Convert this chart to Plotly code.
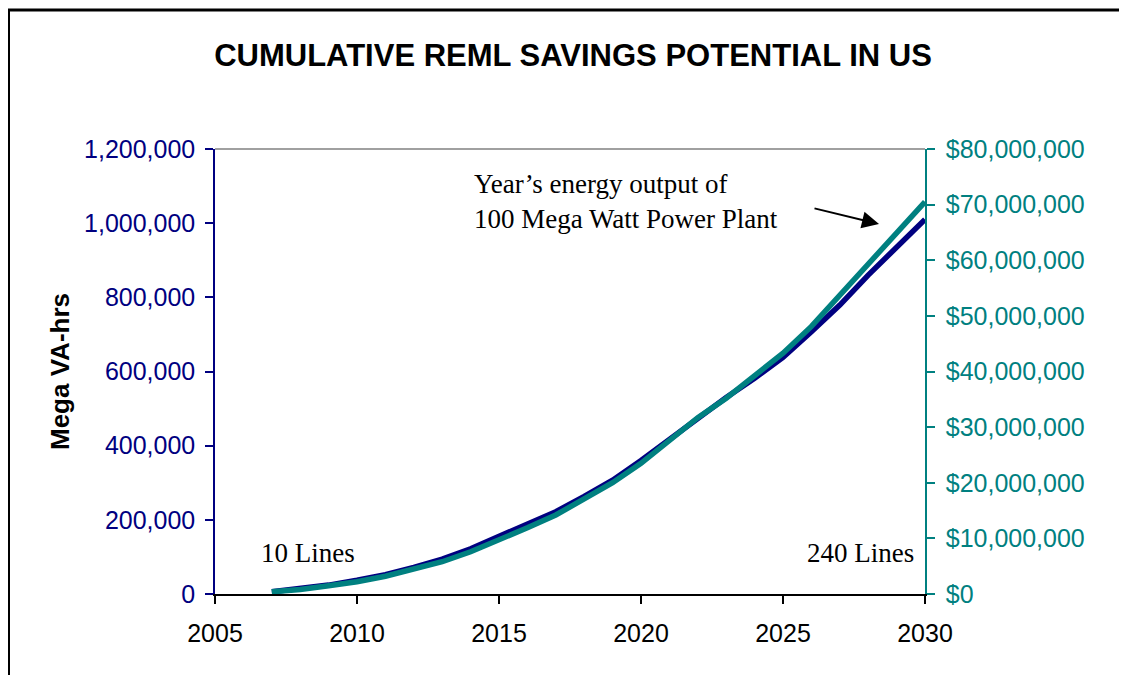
import plotly.graph_objects as go

years = list(range(2007, 2031))
mva_hrs = [6000, 14000, 24000, 37000, 52000, 72000, 94000, 122000, 155000, 188000,
           222000, 263000, 307000, 360000, 418000, 476000, 530000, 582000, 638000,
           707000, 779000, 860000, 937000, 1010000]
dollars = [400000, 800000, 1500000, 2200000, 3200000, 4500000, 5800000, 7600000,
           9700000, 11900000, 14200000, 17000000, 20000000, 23500000, 27500000,
           31700000, 35200000, 39300000, 43300000, 48100000, 53700000, 59500000,
           65100000, 70500000]

NAVY = "#000080"
TEAL = "#008080"
SANS = "Liberation Sans, Arial, sans-serif"
SERIF = "Liberation Serif, Times New Roman, serif"

W, H = 1127, 675
OX, OY = 8, 8  # page offset of the figure in the screenshot
L, T, pw, ph = 215 - OX, 149 - OY, 710, 445
R, B = W - L - pw, H - T - ph

def px(x):  # screen x -> paper
    return (x - OX - L) / pw

def py(y):  # screen y -> paper
    return (T + ph - (y - OY)) / ph

fig = go.Figure()
fig.add_trace(go.Scatter(x=years, y=mva_hrs, mode="lines", name="Mega VA-hrs",
                         line=dict(color=NAVY, width=5.5)))
fig.add_trace(go.Scatter(x=years, y=dollars, mode="lines", name="Dollars",
                         line=dict(color=TEAL, width=5.5), yaxis="y2"))

fig.update_layout(
    width=W, height=H,
    margin=dict(l=L, r=R, t=T, b=B),
    paper_bgcolor="white", plot_bgcolor="white",
    showlegend=False,
    title=dict(text="<b>CUMULATIVE REML SAVINGS POTENTIAL IN US</b>",
               font=dict(family=SANS, size=31, color="black"),
               x=(573 - OX) / W, xanchor="center", y=1 - (55 - OY) / H, yanchor="middle"),
    xaxis=dict(range=[2005, 2030], dtick=5, tick0=2005, showgrid=False, zeroline=False,
               showline=True, linecolor="black", linewidth=1.5,
               ticks="outside", ticklen=8, tickcolor="black", tickwidth=1.5,
               tickfont=dict(family=SANS, size=25, color="black"),
               ticklabelstandoff=8),
    yaxis=dict(range=[0, 1200000], dtick=200000, tickformat=",", showgrid=False,
               zeroline=False, showline=True, linecolor=NAVY, linewidth=1.5,
               ticks="outside", ticklen=8, tickcolor=NAVY, tickwidth=1.5,
               tickfont=dict(family=SANS, size=25, color=NAVY),
               ticklabelstandoff=5,
               title=dict(text="<b>Mega VA-hrs</b>", standoff=7,
                          font=dict(family=SANS, size=26, color="black"))),
    yaxis2=dict(range=[0, 80000000], dtick=10000000, tickformat=",", tickprefix="$",
                overlaying="y", side="right", showgrid=False, zeroline=False,
                showline=True, linecolor=TEAL, linewidth=1.5,
                ticks="outside", ticklen=8, tickcolor=TEAL, tickwidth=1.5,
                ticklabelstandoff=6,
                tickfont=dict(family=SANS, size=25, color=TEAL)),
)

# plot-area top border (gray) and outer frame
fig.add_shape(type="line", xref="paper", yref="paper", x0=0, x1=1, y0=1, y1=1,
              line=dict(color="#808080", width=1.5), layer="below")
fig.add_shape(type="rect", xref="paper", yref="paper",
              x0=px(8.5), x1=px(1140), y0=py(10), y1=py(700),
              line=dict(color="black", width=3))

fig.add_annotation(text="10 Lines", xref="paper", yref="paper", x=px(259), y=py(553),
                   xanchor="left", yanchor="middle", showarrow=False,
                   font=dict(family=SERIF, size=27, color="black"))
fig.add_annotation(text="240 Lines", xref="paper", yref="paper", x=px(916), y=py(553),
                   xanchor="right", yanchor="middle", showarrow=False,
                   font=dict(family=SERIF, size=27, color="black"))
fig.add_annotation(text="Year\u2019s energy output of<br>100 Mega Watt Power Plant",
                   xref="paper", yref="paper", x=px(472), y=py(201),
                   xanchor="left", yanchor="middle", align="left", showarrow=False,
                   font=dict(family=SERIF, size=27, color="black"))
fig.add_annotation(text="", xref="paper", yref="paper", x=px(879), y=py(224),
                   ax=813 - 879, ay=208 - 224,
                   showarrow=True, arrowhead=2, arrowsize=1.7, arrowwidth=2,
                   arrowcolor="black")

fig.write_html("out.html")
